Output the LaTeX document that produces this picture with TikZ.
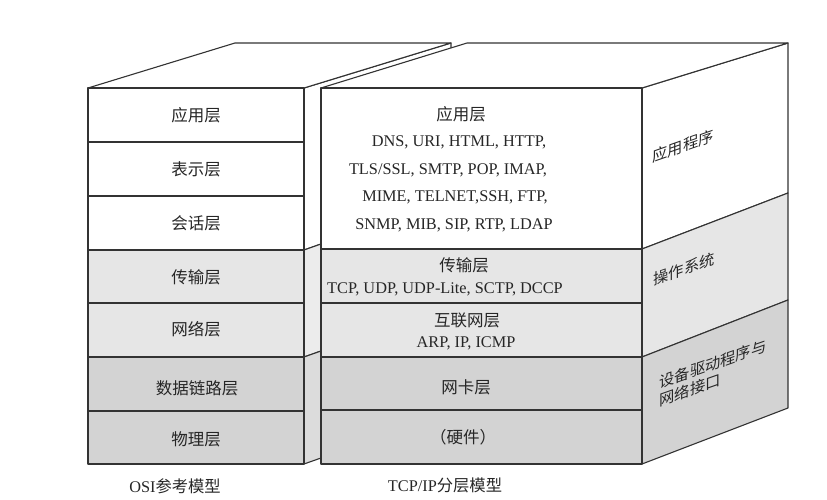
\documentclass[tikz,border=0pt]{standalone}
\usepackage{fontspec}
\setmainfont{Liberation Serif}
\newfontfamily\cjk{Noto Sans CJK SC}
\definecolor{ln}{HTML}{333333}
\definecolor{lg}{HTML}{E6E6E6}
\definecolor{dg}{HTML}{D3D3D3}
\definecolor{slg}{HTML}{ECECEC}
\definecolor{sdg}{HTML}{DCDCDC}
\definecolor{txtc}{HTML}{262626}
\begin{document}
\begin{tikzpicture}[x=1bp,y=-1bp, line width=1.1bp, line join=round,
  face/.style={draw=ln},
  zh/.style={font=\cjk\fontsize{16.5bp}{20bp}\selectfont, text=txtc, inner sep=0pt},
  en/.style={font=\fontsize{16.3bp}{20bp}\selectfont, text=txtc, inner sep=0pt},
  sidetxt/.style={font=\cjk\fontsize{15.3bp}{18bp}\selectfont, text=txtc, inner sep=0pt, yslant=0.35, transform shape}]
\useasboundingbox (0,0) rectangle (827,500);
% ---------- OSI block ----------
\draw[face, fill=white] (304,88) -- (451,43) -- (451,198) -- (304,250) -- cycle;
\draw[face, fill=slg] (304,250) -- (451,198) -- (451,305) -- (304,357) -- cycle;
\draw[face, fill=sdg] (304,357) -- (451,305) -- (451,412) -- (304,464) -- cycle;
\draw[face, fill=white] (88,88) -- (304,88) -- (451,43) -- (235,43) -- cycle;
\draw[face, fill=white] (88,88) rectangle (304,142);
\draw[face, fill=white] (88,142) rectangle (304,196);
\draw[face, fill=white] (88,196) rectangle (304,250);
\draw[face, fill=lg] (88,250) rectangle (304,303);
\draw[face, fill=lg] (88,303) rectangle (304,357);
\draw[face, fill=dg] (88,357) rectangle (304,411);
\draw[face, fill=dg] (88,411) rectangle (304,464);
\node[zh] (o7) at (196,115) {应用层};
\node[zh] (o6) at (196,169) {表示层};
\node[zh] (o5) at (196,223) {会话层};
\node[zh] (o4) at (196,277) {传输层};
\node[zh] (o3) at (196,329) {网络层};
\node[zh] (o2) at (197,388) {数据链路层};
\node[zh] (o1) at (196,439) {物理层};
\node[en] (osil) at (175,486) {OSI{\cjk 参考模型}};
% ---------- TCP/IP block ----------
\draw[face, fill=white] (642,88) -- (788,43) -- (788,193) -- (642,249) -- cycle;
\draw[face, fill=lg] (642,249) -- (788,193) -- (788,300) -- (642,357) -- cycle;
\draw[face, fill=dg] (642,357) -- (788,300) -- (788,408) -- (642,464) -- cycle;
\draw[face, fill=white] (321,88) -- (642,88) -- (788,43) -- (467,43) -- cycle;
\draw[face, fill=white] (321,88) rectangle (642,249);
\draw[face, fill=lg] (321,249) rectangle (642,303);
\draw[face, fill=lg] (321,303) rectangle (642,357);
\draw[face, fill=dg] (321,357) rectangle (642,410);
\draw[face, fill=dg] (321,410) rectangle (642,464);
\node[zh] (t4) at (461,114) {应用层};
\node[en] (t4a) at (459,142) {DNS, URI, HTML, HTTP,};
\node[en] (t4b) at (448,170) {TLS/SSL, SMTP, POP, IMAP,};
\node[en] (t4c) at (455,197) {MIME, TELNET,SSH, FTP,};
\node[en] (t4d) at (454,225) {SNMP, MIB, SIP, RTP, LDAP};
\node[zh] (t3) at (464,265) {传输层};
\node[en] (t3a) at (445,289) {TCP, UDP, UDP-Lite, SCTP, DCCP};
\node[zh] (t2) at (467,320) {互联网层};
\node[en] (t2a) at (466,343) {ARP, IP, ICMP};
\node[zh] (t1) at (466,387) {网卡层};
\node[zh] (t0) at (463,437) {（硬件）};
\node[en] (tcpl) at (445,485) {TCP/IP{\cjk 分层模型}};
% ---------- side labels ----------
\node[sidetxt] (s1) at (683,146) {应用程序};
\node[sidetxt] (s2) at (684,269) {操作系统};
\node[sidetxt, align=left] (s3) at (713,373) {设备驱动程序与\\网络接口};
\end{tikzpicture}
\end{document}
